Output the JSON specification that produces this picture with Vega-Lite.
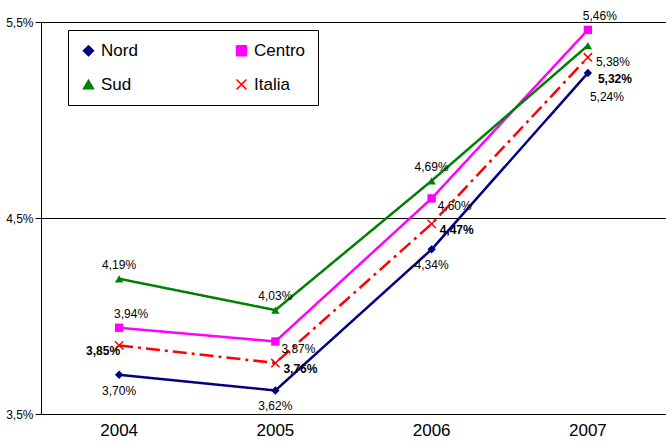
{
  "$schema": "https://vega.github.io/schema/vega-lite/v6.json",
  "width": 666,
  "height": 443,
  "autosize": {"type": "fit", "contains": "padding"},
  "padding": {"left": 5, "top": 10, "right": 0, "bottom": 5},
  "background": "white",
  "config": {
    "font": "Liberation Sans",
    "view": {"stroke": null}
  },
  "data": {
    "values": [
      {"anno": "2004", "serie": "Nord", "v": 3.70},
      {"anno": "2005", "serie": "Nord", "v": 3.62},
      {"anno": "2006", "serie": "Nord", "v": 4.34},
      {"anno": "2007", "serie": "Nord", "v": 5.24},
      {"anno": "2004", "serie": "Centro", "v": 3.94},
      {"anno": "2005", "serie": "Centro", "v": 3.87},
      {"anno": "2006", "serie": "Centro", "v": 4.60},
      {"anno": "2007", "serie": "Centro", "v": 5.46},
      {"anno": "2004", "serie": "Sud", "v": 4.19},
      {"anno": "2005", "serie": "Sud", "v": 4.03},
      {"anno": "2006", "serie": "Sud", "v": 4.69},
      {"anno": "2007", "serie": "Sud", "v": 5.38},
      {"anno": "2004", "serie": "Italia", "v": 3.85},
      {"anno": "2005", "serie": "Italia", "v": 3.76},
      {"anno": "2006", "serie": "Italia", "v": 4.47},
      {"anno": "2007", "serie": "Italia", "v": 5.32}
    ]
  },
  "transform": [
    {"calculate": "replace(format(datum.v, '.2f'), '.', ',') + '%'", "as": "label"}
  ],
  "encoding": {
    "x": {
      "field": "anno", "type": "ordinal", "title": null,
      "scale": {"type": "band", "paddingInner": 0, "paddingOuter": 0},
      "axis": {"labelFontSize": 17, "labelAngle": 0, "ticks": false, "domainColor": "black", "labelPadding": 8, "labelColor": "black"}
    },
    "y": {
      "field": "v", "type": "quantitative", "title": null,
      "scale": {"domain": [3.5, 5.5]},
      "axis": {"values": [3.5, 4.5, 5.5], "labelExpr": "replace(format(datum.value, '.1f'), '.', ',') + '%'", "labelFontSize": 12, "labelColor": "black", "gridColor": "black", "gridOpacity": 1, "domainColor": "black", "tickColor": "black", "tickSize": 6}
    }
  },
  "layer": [
    {
      "mark": {"type": "line", "strokeWidth": 2.5},
      "encoding": {
        "color": {"field": "serie", "type": "nominal",
          "scale": {"domain": ["Nord", "Sud", "Centro", "Italia"], "range": ["#000080", "#008000", "#FF00FF", "#FF0000"]},
          "legend": {"title": null, "orient": "none", "legendX": 27, "legendY": 8, "columns": 2, "columnPadding": 95, "rowPadding": 16, "labelFontSize": 17, "labelColor": "black", "symbolSize": 100, "symbolStrokeWidth": 1.5, "strokeColor": "black", "padding": 12, "labelLimit": 200}},
        "strokeDash": {"field": "serie", "type": "nominal",
          "scale": {"domain": ["Nord", "Sud", "Centro", "Italia"], "range": [[1, 0], [1, 0], [1, 0], [14, 5, 3, 5]]}}
      }
    },
    {
      "mark": {"type": "point", "filled": true, "size": 70, "strokeWidth": 1.5, "opacity": 1},
      "encoding": {
        "color": {"field": "serie", "type": "nominal"},
        "shape": {"field": "serie", "type": "nominal",
          "scale": {"domain": ["Nord", "Sud", "Centro", "Italia"], "range": ["diamond", "triangle-up", "square", "M-1,-1L1,1M1,-1L-1,1"]}}
      }
    },
    {
      "transform": [{"filter": "datum.serie == 'Italia'"}],
      "mark": {"type": "point", "filled": false, "size": 70, "strokeWidth": 1.5, "color": "#FF0000", "shape": "M-1,-1L1,1M1,-1L-1,1", "opacity": 1}
    },
    {
      "transform": [{"filter": "datum.serie == 'Nord' && datum.anno != '2007'"}],
      "mark": {"type": "text", "dy": 16, "fontSize": 12},
      "encoding": {"text": {"field": "label"}}
    },
    {
      "transform": [{"filter": "datum.serie == 'Nord' && datum.anno == '2007'"}],
      "mark": {"type": "text", "dx": 2, "dy": 24, "align": "left", "fontSize": 12},
      "encoding": {"text": {"field": "label"}}
    },
    {
      "transform": [{"filter": "datum.serie == 'Centro' && (datum.anno == '2004' || datum.anno == '2007')"}],
      "mark": {"type": "text", "dx": 12, "dy": -14, "fontSize": 12},
      "encoding": {"text": {"field": "label"}}
    },
    {
      "transform": [{"filter": "datum.serie == 'Centro' && (datum.anno == '2005' || datum.anno == '2006')"}],
      "mark": {"type": "text", "dx": 6, "dy": 8, "align": "left", "fontSize": 12},
      "encoding": {"text": {"field": "label"}}
    },
    {
      "transform": [{"filter": "datum.serie == 'Sud' && datum.anno != '2007'"}],
      "mark": {"type": "text", "dy": -14, "fontSize": 12},
      "encoding": {"text": {"field": "label"}}
    },
    {
      "transform": [{"filter": "datum.serie == 'Sud' && datum.anno == '2007'"}],
      "mark": {"type": "text", "dx": 8, "dy": 16, "align": "left", "fontSize": 12},
      "encoding": {"text": {"field": "label"}}
    },
    {
      "transform": [{"filter": "datum.serie == 'Italia' && datum.anno == '2004'"}],
      "mark": {"type": "text", "dx": -16, "dy": 6, "fontSize": 12, "fontWeight": "bold"},
      "encoding": {"text": {"field": "label"}}
    },
    {
      "transform": [{"filter": "datum.serie == 'Italia' && (datum.anno == '2005' || datum.anno == '2006')"}],
      "mark": {"type": "text", "dx": 8, "dy": 6, "align": "left", "fontSize": 12, "fontWeight": "bold"},
      "encoding": {"text": {"field": "label"}}
    },
    {
      "transform": [{"filter": "datum.serie == 'Italia' && datum.anno == '2007'"}],
      "mark": {"type": "text", "dx": 10, "dy": 22, "align": "left", "fontSize": 12, "fontWeight": "bold"},
      "encoding": {"text": {"field": "label"}}
    }
  ]
}
